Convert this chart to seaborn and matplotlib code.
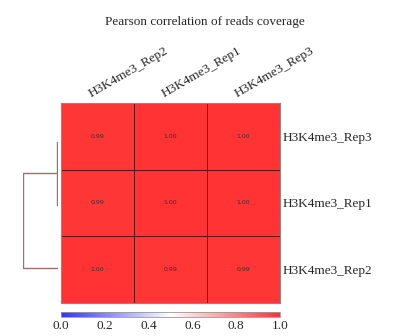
import numpy as np
import pandas as pd
import matplotlib
matplotlib.use("Agg")
import matplotlib.pyplot as plt
import seaborn as sns

# ---- data ----
row_labels = ["H3K4me3_Rep3", "H3K4me3_Rep1", "H3K4me3_Rep2"]
col_labels = ["H3K4me3_Rep2", "H3K4me3_Rep1", "H3K4me3_Rep3"]
row_rep3 = [0.99, 1.00, 1.00]
row_rep1 = [0.99, 1.00, 1.00]
row_rep2 = [1.00, 0.99, 0.99]
# dendrogram merge heights
merge_heights = [0.0002, 0.0107]
cbar_ticks = [0.0, 0.2, 0.4, 0.6, 0.8, 1.0]
title = "Pearson correlation of reads coverage"

df = pd.DataFrame([row_rep3, row_rep1, row_rep2], index=row_labels, columns=col_labels)

sns.set_style("white")
plt.rcParams["font.family"] = ["Liberation Serif", "DejaVu Serif"]

W, H = 407, 336
fig = plt.figure(figsize=(W / 100, H / 100), dpi=100)

def box(l, t, r, b):
    return [l / W, 1 - b / H, (r - l) / W, (b - t) / H]

ax = fig.add_axes(box(61, 103, 280, 303))
cax = fig.add_axes(box(61, 312, 280, 317))
dax = fig.add_axes(box(23, 110, 58, 300))

sns.heatmap(df, ax=ax, cmap="bwr", vmin=0, vmax=1, alpha=0.8,
            annot=True, fmt=".2f",
            annot_kws={"fontsize": 4.5, "color": "#333333", "family": "DejaVu Sans"},
            linewidths=0.6, linecolor="#3a1818",
            cbar_ax=cax, cbar_kws={"orientation": "horizontal", "ticks": cbar_ticks})

# row labels on right
ax.yaxis.tick_right()
ax.set_yticklabels(row_labels, rotation=0, fontsize=9.5)
ax.tick_params(axis="y", length=0, pad=2)
# column labels on top, rotated
ax.set_xticks([])
for i, lab in enumerate(col_labels):
    ax.text(i + 0.5 - 0.09, -0.09, lab, rotation=30, rotation_mode="anchor",
            ha="left", va="baseline", fontsize=9.5, clip_on=False)
ax.set_xlabel("")
ax.set_ylabel("")
for s in ax.spines.values():
    s.set_visible(True)
    s.set_color("#8a8a8a")
    s.set_linewidth(0.8)

# colorbar
cb = ax.collections[0].colorbar
cb.outline.set_edgecolor("#999999")
cb.outline.set_linewidth(0.6)
cax.tick_params(length=0, labelsize=9.5, pad=2)
cax.set_xticklabels([f"{t:.1f}" for t in cbar_ticks])

# dendrogram (leaves at 5, 15, 25 top to bottom)
dcol = "#a86a6a"
h1, h2 = merge_heights
dax.plot([0, h1, h1, 0], [5, 5, 15, 15], color=dcol, lw=1)
dax.plot([h1, h2, h2, 0], [10, 10, 25, 25], color=dcol, lw=1)
dax.set_xlim(h2, 0)
dax.set_ylim(30, 0)
dax.axis("off")

fig.text(205 / W, 1 - 22 / H, title, ha="center", va="center", fontsize=9.5)

fig.savefig("out.png", dpi=100)
